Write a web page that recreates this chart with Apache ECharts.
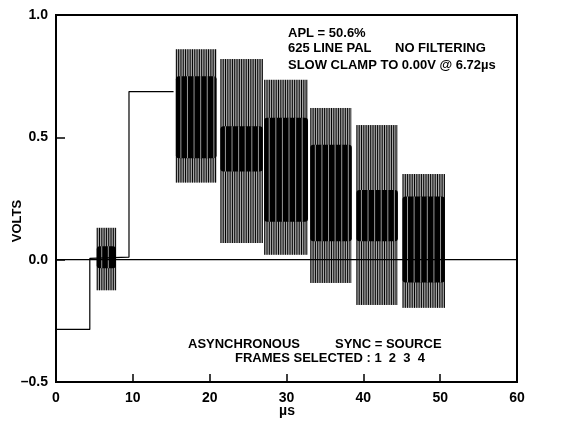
<!DOCTYPE html>
<html><head><meta charset="utf-8">
<script src="https://cdn.jsdelivr.net/npm/echarts@6/dist/echarts.min.js"></script>
<style>html,body{margin:0;padding:0;background:#fff}#c{width:572px;height:423px}</style>
</head><body><div id="c"></div>
<script>
// Axis ticks
const xTicks = [0, 10, 20, 30, 40, 50, 60];
const yTicks = [-0.5, 0.0, 0.5, 1.0];
// Luminance trace (sync tip, back porch, step) : [µs, V]
const traceX = [0, 4.4, 4.4, 9.5, 9.5, 15.3];
const traceY = [-0.285, -0.285, 0.005, 0.01, 0.687, 0.687];
// Chroma packets (burst + 6 modulated ramp steps)
const pktName  = ['burst', 'p1', 'p2', 'p3', 'p4', 'p5', 'p6'];
const pktStart = [5.3, 15.6, 21.4, 27.1, 33.1, 39.1, 45.1];
const pktEnd   = [7.8, 20.9, 26.9, 32.8, 38.5, 44.5, 50.6];
const outerTop = [0.13, 0.86, 0.82, 0.735, 0.62, 0.55, 0.35];
const outerBot = [-0.125, 0.315, 0.068, 0.02, -0.095, -0.185, -0.197];
const innerTop = [0.055, 0.75, 0.545, 0.58, 0.47, 0.285, 0.258];
const innerBot = [-0.035, 0.415, 0.36, 0.155, 0.075, 0.075, -0.093];
// Zero reference
const zeroX = [0, 60];
const zeroY = [0, 0];

const tracePts = traceX.map((x, i) => [x, traceY[i]]);
const zeroPts = zeroX.map((x, i) => [x, zeroY[i]]);
const pktData = pktName.map((n, i) => [pktStart[i], pktEnd[i], outerTop[i], outerBot[i], innerTop[i], innerBot[i]]);

const FONT = 'Liberation Sans, Arial, sans-serif';
const chart = echarts.init(document.getElementById('c'), null, {renderer: 'canvas'});

function renderPkt(params, api) {
  const x0 = api.coord([api.value(0), 0])[0];
  const x1 = api.coord([api.value(1), 0])[0];
  const yOT = api.coord([0, api.value(2)])[1];
  const yOB = api.coord([0, api.value(3)])[1];
  const yIT = api.coord([0, api.value(4)])[1];
  const yIB = api.coord([0, api.value(5)])[1];
  const ch = [];
  ch.push({type: 'rect', shape: {x: x0, y: yOT, width: x1 - x0, height: yOB - yOT}, style: {fill: '#a8a8a8'}});
  for (let x = x0 + 0.5; x <= x1; x += 2.3) {
    ch.push({type: 'line', shape: {x1: x, y1: yOT, x2: x, y2: yOB}, style: {stroke: '#000', lineWidth: 1}});
  }
  ch.push({type: 'rect', shape: {x: x0, y: yIT, width: x1 - x0, height: yIB - yIT, r: 3}, style: {fill: '#000'}});
  for (let x = x0 + 5; x < x1 - 2; x += 6.6) {
    ch.push({type: 'line', shape: {x1: x, y1: yIT, x2: x, y2: yIB}, style: {stroke: '#fff', lineWidth: 0.6}});
  }
  return {type: 'group', children: ch};
}

const txt = (left, top, text) => ({type: 'text', left, top, style: {text, font: 'bold 13px ' + FONT, fill: '#000'}});

chart.setOption({
  animation: false,
  backgroundColor: '#fff',
  grid: {left: 56, right: 55, top: 15, bottom: 41, containLabel: false, outerBoundsMode: 'none',
    show: true, borderColor: '#000', borderWidth: 2, backgroundColor: 'transparent'},
  xAxis: {
    type: 'value', min: 0, max: 60, interval: 10,
    axisLine: {show: true, onZero: false, lineStyle: {color: '#000', width: 2}},
    axisTick: {show: true, inside: true, length: 8, lineStyle: {color: '#000', width: 1.5}},
    axisLabel: {fontFamily: FONT, fontWeight: 'bold', fontSize: 14, color: '#000', margin: 9},
    splitLine: {show: false}
  },
  yAxis: {
    type: 'value', min: -0.5, max: 1.0, interval: 0.5,
    axisLine: {show: true, onZero: false, lineStyle: {color: '#000', width: 2}},
    axisTick: {show: true, inside: true, length: 9, lineStyle: {color: '#000', width: 1.5}},
    axisLabel: {fontFamily: FONT, fontWeight: 'bold', fontSize: 14, color: '#000', margin: 8,
      formatter: v => (v < 0 ? '\u2013' + Math.abs(v).toFixed(1) : v.toFixed(1))},
    splitLine: {show: false}
  },
  series: [
    {type: 'line', data: zeroPts, symbol: 'none', lineStyle: {color: '#000', width: 1.3}, silent: true},
    {type: 'line', data: tracePts, symbol: 'none', lineStyle: {color: '#000', width: 1.2}, silent: true},
    {type: 'custom', data: pktData, renderItem: renderPkt, silent: true}
  ],
  graphic: [
    txt(288, 26.5, 'APL = 50.6%'),
    txt(288, 42, '625 LINE PAL'),
    txt(395, 42, 'NO FILTERING'),
    txt(288, 58.5, 'SLOW CLAMP TO 0.00V @ 6.72µs'),
    txt(188, 337.5, 'ASYNCHRONOUS'),
    txt(335, 337.5, 'SYNC = SOURCE'),
    txt(235, 352, 'FRAMES SELECTED : 1  2  3  4'),
    {type: 'text', x: 17, y: 221, rotation: Math.PI / 2,
      style: {text: 'VOLTS', font: 'bold 13px ' + FONT, fill: '#000', align: 'center', verticalAlign: 'middle'}},
    {type: 'text', x: 287, y: 411,
      style: {text: 'µs', font: 'bold 14px ' + FONT, fill: '#000', align: 'center', verticalAlign: 'middle'}}
  ]
});
</script></body></html>
